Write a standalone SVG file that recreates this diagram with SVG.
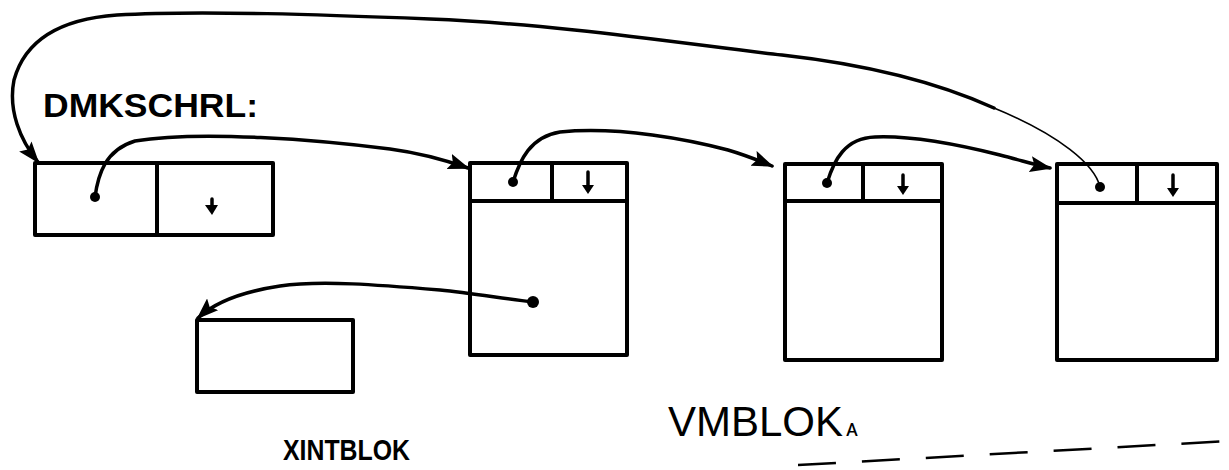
<svg xmlns="http://www.w3.org/2000/svg" width="1229" height="470" viewBox="0 0 1229 470">
<style>
.box{fill:none;stroke:#000;stroke-width:4;stroke-linejoin:round;stroke-linecap:round}
.ln{fill:none;stroke:#000;stroke-width:3.5;stroke-linecap:round}
.thin{fill:none;stroke:#000;stroke-width:1.6;stroke-linecap:round}
.dot{fill:#000}
.lbl{font-family:"Liberation Sans",Arial,sans-serif;fill:#000}
</style>
<defs>
<marker id="ah" viewBox="0 0 22 16" refX="20" refY="8" markerWidth="22" markerHeight="16" markerUnits="userSpaceOnUse" orient="auto">
<path d="M0,0 L22,8 L0,16 L4,8 Z" fill="#000"/>
</marker>
</defs>
<rect width="1229" height="470" fill="#fff"/>

<g id="dmkschrl">
<text class="lbl" x="43" y="117" font-size="33" font-weight="bold" textLength="215" lengthAdjust="spacingAndGlyphs">DMKSCHRL:</text>
<rect class="box" x="35" y="163" width="238" height="72"/>
<line class="box" x1="157" y1="163" x2="157" y2="235"/>
<circle class="dot" cx="95" cy="197" r="5"/>
<path d="M212,199 L212,210" class="ln" stroke-width="3"/>
<path d="M205,205 L212,215 L218,205 Z" fill="#000"/>
</g>

<g id="vmblok1">
<rect class="box" x="470" y="163" width="157" height="192"/>
<line class="box" x1="470" y1="201" x2="627" y2="201"/>
<line class="box" x1="552" y1="163" x2="552" y2="201"/>
<circle class="dot" cx="513" cy="182" r="5"/>
<path d="M588,172 L588,190" class="ln" stroke-width="3"/>
<path d="M582,185 L588,194 L594,185 Z" fill="#000"/>
<circle class="dot" cx="533" cy="302" r="6"/>
</g>

<g id="vmblok2">
<rect class="box" x="785" y="164" width="157" height="196"/>
<line class="box" x1="785" y1="201" x2="942" y2="201"/>
<line class="box" x1="863" y1="164" x2="863" y2="201"/>
<circle class="dot" cx="827" cy="183" r="5"/>
<path d="M903,175 L903,190" class="ln" stroke-width="3"/>
<path d="M897,186 L903,195 L909,186 Z" fill="#000"/>
</g>

<g id="vmblok3">
<rect class="box" x="1057" y="164" width="160" height="196"/>
<line class="box" x1="1057" y1="203" x2="1217" y2="203"/>
<line class="box" x1="1137" y1="164" x2="1137" y2="203"/>
<circle class="dot" cx="1100" cy="187" r="5"/>
<path d="M1173,175 L1173,192" class="ln" stroke-width="3"/>
<path d="M1167,188 L1173,197 L1179,188 Z" fill="#000"/>
</g>

<g id="xintblok">
<rect class="box" x="197" y="320" width="156" height="72"/>
<text class="lbl" x="283" y="460" font-size="30" font-weight="bold" textLength="127" lengthAdjust="spacingAndGlyphs">XINTBLOK</text>
</g>

<g id="labels">
<text class="lbl" x="668" y="436" font-size="42">VMBLOK<tspan font-size="24" dx="3">ᴀ</tspan></text>
<path d="M798,465 L1229,441" fill="none" stroke="#000" stroke-width="2.5" stroke-dasharray="38,26"/>
</g>

<g id="connectors">
<path class="ln" d="M95,197 C98,175 105,150 135,141 C200,130 320,140 390,149 C420,153 445,160 468,168" marker-end="url(#ah)"/>
<path class="ln" d="M513,182 C520,160 530,137 560,132 C620,126 690,140 728,150 C745,155 760,161 772,166" marker-end="url(#ah)"/>
<path class="ln" d="M827,183 C834,160 845,138 875,137 C920,135 980,150 1000,155 C1020,160 1035,165 1050,168" marker-end="url(#ah)"/>
<path class="thin" d="M1100,187 C1095,165 1060,135 994,108"/>
<path class="ln" d="M994,108 C950,88 880,66 782,55 C700,46 560,24 430,19 C330,15 200,10 117,15 C60,19 25,40 14,80 C8,110 20,140 38,162" marker-end="url(#ah)"/>
<path class="ln" d="M533,302 C500,298 470,293 440,290 C380,285 320,280 280,286 C240,292 215,302 198,318" marker-end="url(#ah)"/>
</g>
</svg>
